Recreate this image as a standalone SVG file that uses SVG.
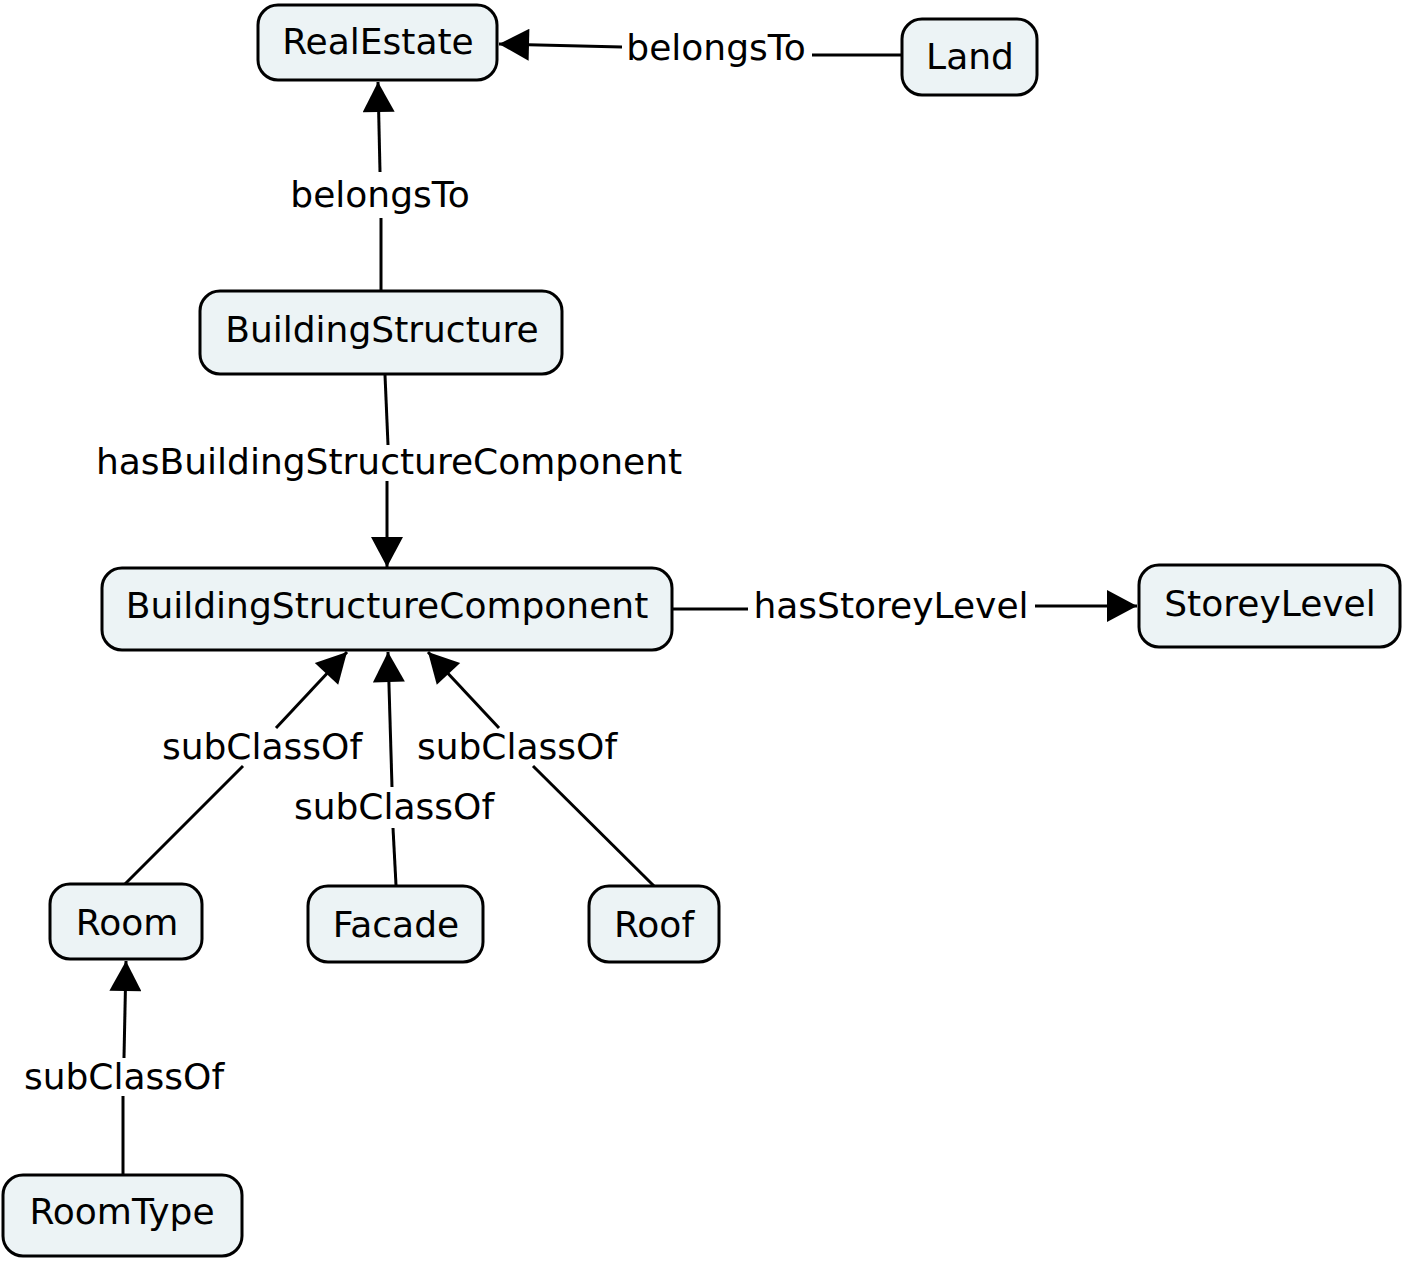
<svg xmlns="http://www.w3.org/2000/svg" width="1405" height="1261" viewBox="0 0 1405 1261">
<style>
.node rect{fill:#ecf3f5;stroke:#000;stroke-width:3}
.node text,.lbl{font-family:"DejaVu Sans",Verdana,sans-serif;font-size:36px;fill:#000;text-anchor:middle}
.edge line{stroke:#000;stroke-width:3;fill:none}
</style>
<defs>
<marker id="arr" markerUnits="userSpaceOnUse" markerWidth="32" markerHeight="32" viewBox="0 0 30 32" refX="30" refY="16" orient="auto">
<path d="M0,0 L30,16 L0,32 z" fill="#000"/>
</marker>
</defs>
<rect width="1405" height="1261" fill="#fff"/>
<g id="connectors" class="edge">
<line x1="902" y1="55" x2="812" y2="55"/>
<line x1="622" y1="47" x2="499" y2="44" marker-end="url(#arr)"/>
<line x1="381" y1="291" x2="381" y2="218"/>
<line x1="380" y1="172" x2="378" y2="82" marker-end="url(#arr)"/>
<line x1="385" y1="375" x2="388" y2="445"/>
<line x1="387" y1="481" x2="387" y2="567" marker-end="url(#arr)"/>
<line x1="673" y1="609" x2="748" y2="609"/>
<line x1="1035" y1="606" x2="1137" y2="606" marker-end="url(#arr)"/>
<line x1="125" y1="884" x2="243" y2="766"/>
<line x1="276" y1="728" x2="347" y2="652" marker-end="url(#arr)"/>
<line x1="396" y1="885" x2="393" y2="828"/>
<line x1="392" y1="787" x2="388" y2="652" marker-end="url(#arr)"/>
<line x1="654" y1="886" x2="533" y2="766"/>
<line x1="499" y1="728" x2="428" y2="652" marker-end="url(#arr)"/>
<line x1="123" y1="1175" x2="123" y2="1096"/>
<line x1="124" y1="1058" x2="126" y2="961" marker-end="url(#arr)"/>
<text class="lbl" x="716" y="60">belongsTo</text>
<text class="lbl" x="380" y="207">belongsTo</text>
<text class="lbl" x="389" y="474">hasBuildingStructureComponent</text>
<text class="lbl" x="891" y="618">hasStoreyLevel</text>
<text class="lbl" x="262" y="759">subClassOf</text>
<text class="lbl" x="517" y="759">subClassOf</text>
<text class="lbl" x="394" y="819">subClassOf</text>
<text class="lbl" x="124" y="1089">subClassOf</text>
</g>
<g id="RealEstate" class="node"><rect x="258" y="5" width="239" height="75" rx="20"/><text x="378" y="54">RealEstate</text></g>
<g id="Land" class="node"><rect x="902" y="19" width="135" height="76" rx="20"/><text x="970" y="69">Land</text></g>
<g id="BuildingStructure" class="node"><rect x="200" y="291" width="362" height="83" rx="20"/><text x="382" y="342">BuildingStructure</text></g>
<g id="BuildingStructureComponent" class="node"><rect x="102" y="568" width="570" height="82" rx="20"/><text x="387" y="618">BuildingStructureComponent</text></g>
<g id="StoreyLevel" class="node"><rect x="1139" y="565" width="261" height="82" rx="20"/><text x="1270" y="616">StoreyLevel</text></g>
<g id="Room" class="node"><rect x="50" y="884" width="152" height="75" rx="20"/><text x="127" y="935">Room</text></g>
<g id="Facade" class="node"><rect x="308" y="886" width="175" height="76" rx="20"/><text x="396" y="937">Facade</text></g>
<g id="Roof" class="node"><rect x="589" y="886" width="130" height="76" rx="20"/><text x="654" y="937">Roof</text></g>
<g id="RoomType" class="node"><rect x="3" y="1175" width="239" height="81" rx="20"/><text x="122" y="1224">RoomType</text></g>
</svg>
